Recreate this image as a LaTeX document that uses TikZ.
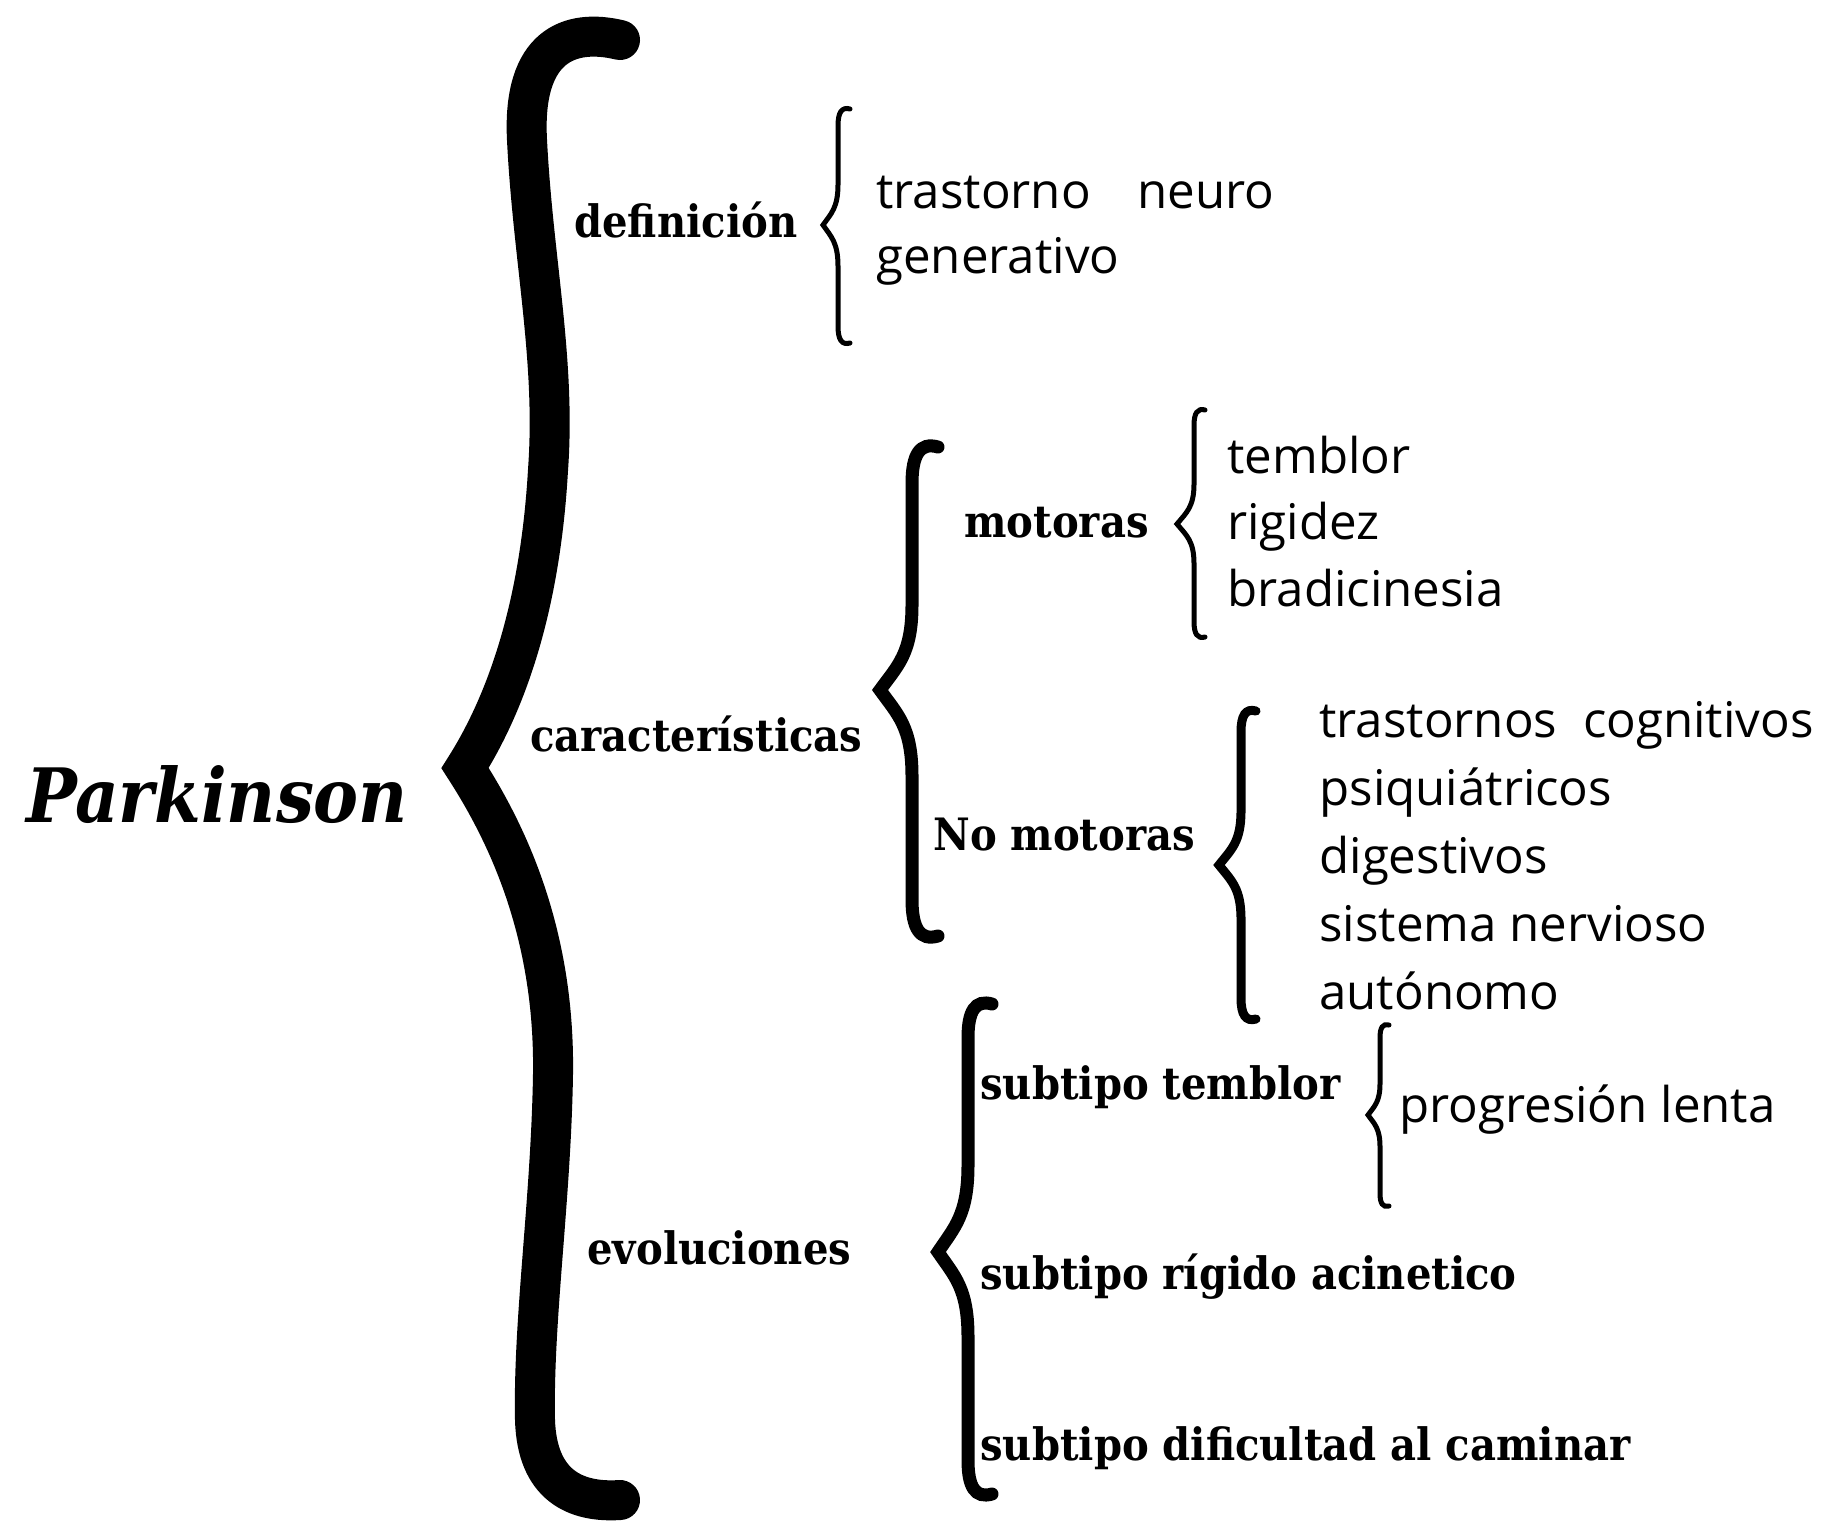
\documentclass[tikz,border=0pt]{standalone}
\usepackage{fontspec}
\newfontfamily\entryfont{Open Sans}
\newfontfamily\topicfont{DejaVu Serif Condensed}
\usepackage{tikz}

% curly brace drawn as one stroked path: spine x, top y, tip y, bottom y, tip depth, hook
\newcommand{\calbrace}[7][]{%
  \draw[#1] ({#2+#7},#3)
    .. controls ({#2+0.3*#7},{#3-0.2*#7}) and (#2,{#3+0.3*#7}) .. (#2,{#3+1.4*#7})
    -- (#2,{#4-0.35*(#4-#3)})
    .. controls (#2,{#4-0.15*(#4-#3)}) and ({#2-0.45*#6},{#4-0.1*(#4-#3)}) .. ({#2-#6},#4)
    .. controls ({#2-0.45*#6},{#4+0.1*(#5-#4)}) and (#2,{#4+0.15*(#5-#4)}) .. (#2,{#4+0.35*(#5-#4)})
    -- (#2,{#5-1.4*#7})
    .. controls (#2,{#5-0.3*#7}) and ({#2+0.3*#7},{#5+0.2*#7}) .. ({#2+#7},#5);}

\tikzset{
  bracebase/.style={line join=miter, line cap=round},
  bracethin/.style={bracebase, line width=2.5pt},
  bracemid/.style={bracebase, line width=4.5pt},
  bracewide/.style={bracebase, line width=6.5pt},
  bracehuge/.style={bracebase, line width=20pt},
  entry/.style={anchor=base west, inner sep=0pt, font=\entryfont\fontsize{24.6}{29}\selectfont},
  topic/.style={anchor=base west, inner sep=0pt, font=\topicfont\bfseries\fontsize{22.3}{26}\selectfont},
  rootword/.style={anchor=base west, inner sep=0pt, font=\topicfont\bfseries\itshape\fontsize{37.5}{44}\selectfont}
}

\begin{document}
\begin{tikzpicture}[x=0.5pt,y=-0.5pt]
  \useasboundingbox (0,0) rectangle (1829,1531);

  % root
  \node[rootword] (park) at (26,822) {Parkinson};
  \draw[bracehuge] (620,40) .. controls (570,28) and (522,45) .. (527,140)
    .. controls (533,260) and (556,360) .. (548,470)
    .. controls (540,610) and (505,705) .. (465,768)
    .. controls (505,830) and (555,930) .. (553,1074)
    .. controls (551,1200) and (533,1320) .. (535,1420)
    .. controls (537,1485) and (575,1503) .. (620,1500);

  % definicion
  \node[topic] (def) at (574,237) {definición};
  \calbrace[bracethin]{838}{109}{225}{343}{15}{12}
  \node[entry] (def1) at (876,208) {trastorno\hspace{23.5pt}neuro};
  \node[entry] (def2) at (876,273) {generativo};

  % caracteristicas
  \node[topic] (car) at (530,751) {características};
  \calbrace[bracewide]{912}{447}{690}{936}{32}{26}
  \node[topic] (mot) at (964,537) {motoras};
  \calbrace[bracethin]{1194}{410}{524}{637}{17}{11}
  \foreach \txt [count=\i] in {temblor, rigidez, bradicinesia}
    \node[entry] (mot\i) at (1227,{406.5+66.5*\i}) {\txt};
  \node[topic] (nomot) at (933,850) {No motoras};
  \calbrace[bracemid]{1241}{711}{865}{1019}{22}{15}
  \foreach \txt [count=\i] in {trastornos\hspace{13pt}cognitivos, psiquiátricos,
      digestivos, sistema nervioso, autónomo}
    \node[entry] (nomot\i) at (1319,{669+68*\i}) {\txt};

  % evoluciones
  \node[topic] (evo) at (587,1264) {evoluciones};
  \calbrace[bracewide]{968}{1004}{1252}{1494}{30}{24}
  \node[topic] (sub1) at (980,1099) {subtipo temblor};
  \calbrace[bracethin]{1380}{1025}{1115}{1206}{12}{9}
  \node[entry] (prog) at (1399,1122) {progresión lenta};
  \node[topic] (sub2) at (980,1289) {subtipo rígido acinetico};
  \node[topic] (sub3) at (980,1460) {subtipo dificultad al caminar};
\end{tikzpicture}
\end{document}
